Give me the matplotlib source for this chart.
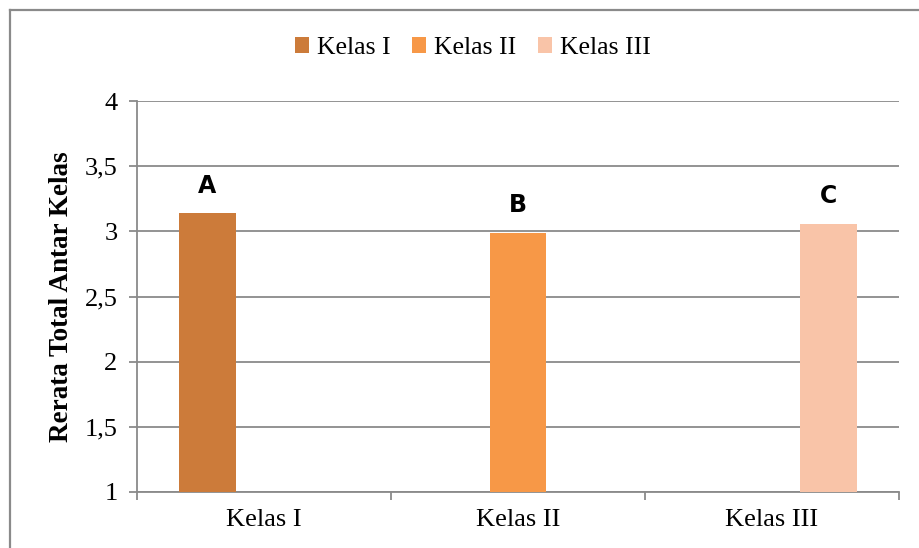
import matplotlib
matplotlib.use("Agg")
import matplotlib.pyplot as plt
from matplotlib.lines import Line2D
import numpy as np

categories = ["Kelas I", "Kelas II", "Kelas III"]
series_names = ["Kelas I", "Kelas II", "Kelas III"]
series_values = [3.14, 2.99, 3.06]
series_letters = ["A", "B", "C"]
series_colors = ["#CC7B3A", "#F79847", "#F9C4A8"]
y_ticks = [1, 1.5, 2, 2.5, 3, 3.5, 4]
y_tick_labels = ["1", "1,5", "2", "2,5", "3", "3,5", "4"]

W, H = 919, 548
fig = plt.figure(figsize=(W / 100, H / 100), dpi=100)
fig.patch.set_facecolor("white")

GRAY = "#8A8A8A"
serif = ["Liberation Serif", "DejaVu Serif"]

# chart frame (left and top edges visible)
fig.add_artist(Line2D([10 / W, 10 / W], [0, 1 - 10 / H], color=GRAY, lw=1.6,
                      transform=fig.transFigure))
fig.add_artist(Line2D([10 / W, 1], [1 - 10 / H, 1 - 10 / H], color=GRAY, lw=1.6,
                      transform=fig.transFigure))

ax = fig.add_axes([137 / W, 1 - 492 / H, (899 - 137) / W, (492 - 101) / H])
ax.set_facecolor("white")

n = len(categories)
x = np.arange(n)
bar_w = 0.2244
for i, (name, val, col, letter) in enumerate(zip(series_names, series_values,
                                                  series_colors, series_letters)):
    xi = i + (i - 1) * bar_w
    ax.bar(xi, val, width=bar_w, color=col, label=name, zorder=3)
    ax.text(xi, val + 0.21, letter, ha="center", va="center",
            fontsize=17, fontweight="heavy", family="DejaVu Sans", zorder=4)

ax.set_xlim(-0.5, n - 0.5)
ax.set_ylim(1, 4)
ax.set_yticks(y_ticks)
ax.set_yticklabels(y_tick_labels, family=serif, fontsize=19)
ax.yaxis.grid(True, color=GRAY, lw=1.3, zorder=0)
ax.set_axisbelow(True)

# category boundaries as major ticks, labels at category centres
ax.set_xticks(np.arange(n + 1) - 0.5)
ax.set_xticklabels([""] * (n + 1))
ax.set_xticks(x, minor=True)
ax.set_xticklabels(categories, minor=True, family=serif, fontsize=19)
ax.tick_params(axis="x", which="minor", length=0, pad=12)
ax.tick_params(axis="x", which="major", length=6, width=1.3, color=GRAY)
ax.tick_params(axis="y", length=6, width=1.3, color=GRAY, pad=8)

for side in ["top", "right"]:
    ax.spines[side].set_visible(False)
for side in ["left", "bottom"]:
    ax.spines[side].set_color(GRAY)
    ax.spines[side].set_linewidth(1.3)

ax.set_ylabel("Rerata Total Antar Kelas", family=serif, fontsize=19.5,
              fontweight="bold", labelpad=8)

fig.legend(loc="center", bbox_to_anchor=(473 / W, 1 - 48 / H), ncol=3,
           frameon=False, prop={"family": serif, "size": 18.5},
           handlelength=0.55, handleheight=0.55, handletextpad=0.3,
           columnspacing=0.85, borderaxespad=0)

fig.savefig("out.png", dpi=100, facecolor="white")
